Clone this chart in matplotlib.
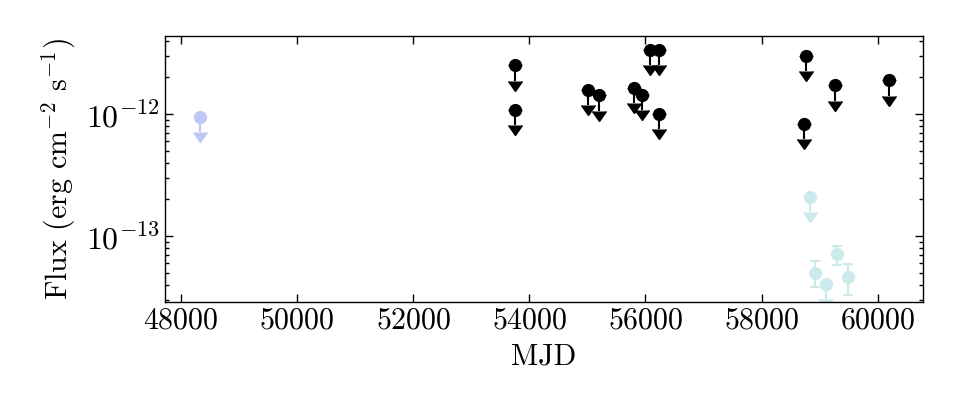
import numpy as np
import matplotlib
matplotlib.use("Agg")
import matplotlib.pyplot as plt
from matplotlib.ticker import LogLocator, FixedLocator, FuncFormatter, NullFormatter

plt.rcParams["font.family"] = "serif"
plt.rcParams["font.serif"] = ["cmr10", "DejaVu Serif"]
plt.rcParams["mathtext.fontset"] = "cm"
plt.rcParams["axes.formatter.use_mathtext"] = True

# upper limits, black
mjd_ul_black = [53756, 53756, 55016, 55199, 55795, 55933, 56081, 56225, 56225,
                58768, 58727, 59259, 60187]
flux_ul_black = [2.5e-12, 1.08e-12, 1.57e-12, 1.42e-12, 1.63e-12, 1.43e-12, 3.37e-12,
                 3.37e-12, 1.0e-12, 3.01e-12, 8.3e-13, 1.72e-12, 1.89e-12]

# upper limit, lavender (early epoch)
mjd_ul_lav = [48326]
flux_ul_lav = [9.5e-13]

# light cyan: upper limits and detections
mjd_ul_cyan = [58835, 59110]
flux_ul_cyan = [2.10e-13, 4.04e-14]
mjd_det_cyan = [58928, 59293, 59488]
flux_det_cyan = [4.99e-14, 7.11e-14, 4.58e-14]
flux_det_hi = [6.26e-14, 8.28e-14, 5.89e-14]
flux_det_lo = [3.79e-14, 5.82e-14, 3.26e-14]

xticks = [48000, 50000, 52000, 54000, 56000, 58000, 60000]

fs = 21.5

fig = plt.figure(figsize=(9.6, 4.2), dpi=100)
ax = fig.add_axes([0.172, 0.281, 0.789, 0.633])

def plot_ul(x, y, color):
    y = np.array(y)
    ax.errorbar(x, y, yerr=0.25 * y, uplims=True, fmt="none", color=color,
                elinewidth=1.5, capsize=5, zorder=2)
    ax.plot(x, y, "o", color=color, ms=9.5, mew=0, zorder=3)

plot_ul(mjd_ul_black, flux_ul_black, "black")
plot_ul(mjd_ul_lav, flux_ul_lav, "#bfc8f5")
plot_ul(mjd_ul_cyan, flux_ul_cyan, "#cce9eb")

det = np.array(flux_det_cyan)
yerr = [det - np.array(flux_det_lo), np.array(flux_det_hi) - det]
ax.errorbar(mjd_det_cyan, det, yerr=yerr, fmt="none", color="#cce9eb",
            elinewidth=1.5, capsize=3.5, capthick=1.5, zorder=2)
ax.plot(mjd_det_cyan, det, "o", color="#cce9eb", ms=9.5, mew=0, zorder=3)

ax.set_yscale("log")
ax.set_xlim(47725, 60773)
ax.set_ylim(2.88e-14, 4.35e-12)
ax.xaxis.set_major_locator(FixedLocator(xticks))
ax.yaxis.set_major_locator(LogLocator(base=10, numticks=10))
ax.yaxis.set_minor_locator(LogLocator(base=10, subs=np.arange(2, 10), numticks=20))
ax.yaxis.set_major_formatter(FuncFormatter(lambda v, p: r"$10^{%d}$" % round(np.log10(v))))
ax.yaxis.set_minor_formatter(NullFormatter())

ax.tick_params(which="both", direction="in", top=True, right=True, labelsize=fs)
ax.tick_params(axis="y", labelsize=23)
ax.tick_params(which="major", length=6, width=1)
ax.tick_params(which="minor", length=3, width=1)
for s in ax.spines.values():
    s.set_linewidth(1)

ax.set_xlabel("MJD", fontsize=fs, labelpad=6)
ax.set_ylabel(r"Flux (erg cm$^{-2}$ s$^{-1}$)", fontsize=fs, labelpad=6)

fig.savefig("out.png", dpi=100)
